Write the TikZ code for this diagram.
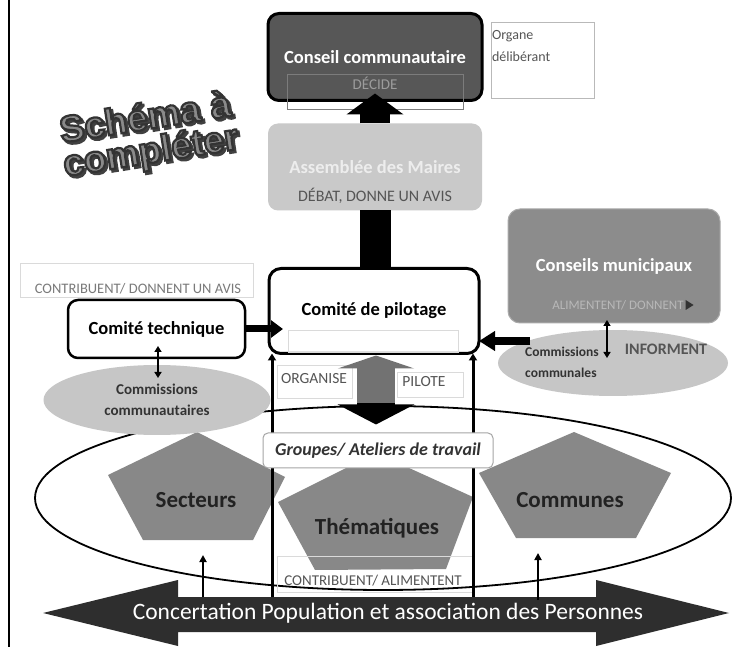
\documentclass[tikz,border=0pt]{standalone}
\usepackage{fontspec}
\setmainfont{Carlito}
\newfontfamily\schfont{Liberation Sans}
\usetikzlibrary{arrows.meta,shapes.geometric,calc}
\definecolor{ccfill}{HTML}{575757}
\definecolor{ccinner}{HTML}{7C7C7C}
\definecolor{amfill}{HTML}{C9C9C9}
\definecolor{amtext}{HTML}{EDEDED}
\definecolor{cmfill}{HTML}{8C8C8C}
\definecolor{cmedge}{HTML}{AAAAAA}
\definecolor{elfill}{HTML}{C6C6C6}
\definecolor{pentfill}{HTML}{888888}
\definecolor{pentext}{HTML}{222222}
\definecolor{bandfill}{HTML}{2E2E2E}
\definecolor{upgray}{HTML}{727272}
\definecolor{txtgray}{HTML}{555555}
\definecolor{lighttxt}{HTML}{7A7A7A}
\definecolor{faintline}{HTML}{DADADA}
\definecolor{decidetxt}{HTML}{9C9C9C}
\definecolor{alimtxt}{HTML}{B8B8B8}
\definecolor{schfill}{HTML}{8A8A8A}
\definecolor{schshadow}{HTML}{404040}
\definecolor{grpedge}{HTML}{A5A5A5}
\definecolor{darktxt}{HTML}{333333}
\newcommand{\outlinedtext}[1]{\special{pdf:literal direct 2 Tr 2.2 w 0.2 0.2 0.2 RG}#1\special{pdf:literal direct 0 Tr}}
\newcommand{\shadowtext}[1]{\special{pdf:literal direct 2 Tr 2.4 w 0.25 0.25 0.25 RG}#1\special{pdf:literal direct 0 Tr}}
\begin{document}
\begin{tikzpicture}[x=1pt,y=-1pt,
  every node/.style={inner sep=0pt,outer sep=0pt},
  titlefont/.style={font=\bfseries\fontsize{18.5}{22}\selectfont},
  heavybox/.style={draw=black,line width=3pt,rounded corners=11pt},
  faintbox/.style={draw=faintline,line width=0.8pt},
  dblarrow/.style={line width=2pt,{Triangle[length=6pt,width=7pt]}-{Triangle[length=6pt,width=7pt]}},
  smallup/.style={line width=2pt,-{Triangle[length=7pt,width=7pt]}},
  vline/.style={line width=3pt,-{Triangle[length=7pt,width=8pt]}},
  pentagon/.style={fill=pentfill},
  penttext/.style={font=\bfseries\fontsize{23}{26}\selectfont,text=pentext},
  schtext/.style={rotate=9,text=schfill,font=\schfont\bfseries\fontsize{37}{40}\selectfont},
]
\useasboundingbox (0,0) rectangle (732,647);
\fill[white] (0,0) rectangle (732,647);

% left frame line
\draw[line width=2.8pt] (9,0) -- (9,647);

% title "Schema a completer" (shadow, then outlined text)
\coordinate (schA) at (145,116);
\coordinate (schB) at (151,153);
\node[schtext,text=schshadow] (schAs) at ($(schA)+(2.2,2.2)$) {\shadowtext{Schéma à}};
\node[schtext,text=schshadow] (schBs) at ($(schB)+(2.2,2.2)$) {\shadowtext{compléter}};
\node[schtext] (schAt) at (schA) {\outlinedtext{Schéma à}};
\node[schtext] (schBt) at (schB) {\outlinedtext{compléter}};

% Organe deliberant
\node[draw=faintline!85!black,line width=0.8pt,minimum width=103pt,minimum height=76pt,anchor=north west] (org) at (491,22) {};
\node[anchor=north west,align=left,text=txtgray,font=\fontsize{14}{22}\selectfont] (orgtxt) at (492,30) {Organe\\délibérant};

% big ellipse
\node[ellipse,draw,line width=1.8pt,minimum width=696pt,minimum height=184pt] (big) at (383,498) {};

% pentagons
\fill[pentagon] (197,432) -- (285,477) -- (253,540) -- (143,540) -- (108,475) -- cycle;
\fill[pentagon] (376,453) -- (473,497) -- (446,569) -- (315,570) -- (278,502) -- cycle;
\fill[pentagon] (574,432) -- (671,473) -- (636,538) -- (516,538) -- (479,473) -- cycle;
\node[penttext] (sec) at (196,500) {Secteurs};
\node[penttext] (thm) at (377,528) {Thématiques};
\node[penttext] (com) at (570,500) {Communes};

% faint text box bottom
\node[faintbox,minimum width=196pt,minimum height=36pt] (calbox) at (375,574) {};
\node[text=txtgray,font=\fontsize{15}{17}\selectfont] (caltxt) at (373,581) {CONTRIBUENT/ ALIMENTENT};

% Conseil communautaire
\node[heavybox,fill=ccfill,minimum width=214pt,minimum height=87pt,text=white,titlefont] (cc) at (375,57) {Conseil communautaire};
\draw[draw=ccinner,line width=0.6pt] ($(cc.center)+(-88,17)$) rectangle ($(cc.center)+(88,52)$);
\node[text=decidetxt,font=\fontsize{15}{17}\selectfont] (decide) at ($(cc.center)+(0,26)$) {DÉCIDE};

% Assemblee des Maires
\node[fill=amfill,rounded corners=10pt,minimum width=214pt,minimum height=87pt,text=amtext,titlefont] (am) at (375,167) {Assemblée des Maires};
\node[text=txtgray,font=\fontsize{16}{18}\selectfont] (debat) at ($(am.center)+(0,29)$) {DÉBAT, DONNE UN AVIS};

% arrow Assemblee -> Conseil
\draw[line width=30pt,-{Triangle[length=21pt,width=56pt]}] (am.north) -- ($(cc.south)+(0,-7)$);

% Comite de pilotage
\node[heavybox,fill=white,rounded corners=12pt,minimum width=210pt,minimum height=85pt,titlefont] (cp) at (374,311) {Comité de pilotage};
\draw[faintline,line width=0.8pt] ($(cp.center)+(-86,19)$) rectangle ($(cp.center)+(84,41)$);

% bar Assemblee -> Comite de pilotage
\draw[line width=31pt] (am.south) -- (am.south |- cp.north);

% CONTRIBUENT / DONNENT UN AVIS
\node[faintbox,minimum width=233pt,minimum height=34pt] (cdbox) at (136.5,280) {};
\node[text=lighttxt,font=\fontsize{14.5}{17}\selectfont] (cdtxt) at (138,289) {CONTRIBUENT/ DONNENT UN AVIS};

% Comite technique
\node[draw=black,line width=2.5pt,rounded corners=10pt,fill=white,minimum width=177pt,minimum height=58pt,titlefont] (ct) at (156.5,329) {Comité technique};
\draw[line width=7pt,-{Triangle[length=12pt,width=17pt]}] (ct.east) -- ($(cp.west |- ct.east)+(14,0)$);

% Commissions communautaires
\node[ellipse,fill=elfill,minimum width=227pt,minimum height=70pt,align=center,text=darktxt,font=\bfseries\fontsize{15}{21}\selectfont] (ccomm) at (157,400) {Commissions\\communautaires};
\draw[dblarrow] ($(ct.south)+(1.5,-12)$) -- ($(ct.south)+(1.5,20)$);

% Conseils municipaux
\node[fill=cmfill,draw=cmedge,line width=1pt,rounded corners=12pt,minimum width=212pt,minimum height=114pt,text=white,titlefont] (cm) at (614,266) {Conseils municipaux};
\node[text=alimtxt,font=\fontsize{13}{15}\selectfont] (alim) at ($(cm.center)+(4,39)$) {ALIMENTENT/ DONNENT};
\fill[darktxt] ($(alim.east)+(2,-5)$) -- ($(alim.east)+(10,0)$) -- ($(alim.east)+(2,5)$) -- cycle;

% Commissions communales
\node[ellipse,fill=elfill,minimum width=230pt,minimum height=66pt] (ccl) at (613,363) {};
\node[align=left,text=darktxt,font=\bfseries\fontsize{13.5}{21}\selectfont] (ccltxt) at (562,362) {Commissions\\communales};
\node[text=txtgray,font=\bfseries\fontsize{16}{18}\selectfont] (inform) at (666,349) {INFORMENT};
\draw[dblarrow] ($(cm.south)+(-7,-3)$) -- ($(cm.south)+(-7,35)$);

% arrow communales -> pilotage
\coordinate (cclstart) at ($(ccl.center)+(-83,-22)$);
\draw[line width=8pt,-{Triangle[length=16pt,width=19pt]}] (cclstart) -- (cclstart -| cp.east);

% vertical lines up to Comite de pilotage
\coordinate (lbot) at ($(cp.south west)+(3,245)$);
\coordinate (rbot) at ($(cp.south east)+(-6,245)$);
\draw[vline] (lbot) -- ($(cp.south west)+(3,0)$);
\draw[vline] (rbot) -- ($(cp.south east)+(-6,0)$);

% ORGANISE / PILOTE boxes
\node[faintbox,fill=white,minimum width=75pt,minimum height=33pt] (orgbox) at (314.5,381.5) {};
\node[text=txtgray,font=\fontsize{15.5}{17}\selectfont] (orgn) at (314,379) {ORGANISE};
\node[faintbox,fill=white,minimum width=66pt,minimum height=25pt] (pilbox) at (430,384.5) {};
\node[text=txtgray,font=\fontsize{15.5}{17}\selectfont] (pil) at (424,382) {PILOTE};

% central double arrow
\draw[upgray,line width=38pt,-{Triangle[length=13pt,width=76pt]}] ($(cp.south)+(2,51)$) -- ($(cp.south)+(2,2)$);
\draw[black,line width=38pt,-{Triangle[length=20pt,width=76pt]}] ($(cp.south)+(2,50)$) -- ($(cp.south)+(2,71)$);

% Groupes / Ateliers de travail
\node[draw=grpedge,line width=1pt,fill=white,rounded corners=5pt,minimum width=230pt,minimum height=35pt,text=darktxt,font=\bfseries\itshape\fontsize{18}{20}\selectfont] (grp) at (378,450.5) {Groupes/ Ateliers de travail};

% banner
\fill[bandfill] (43,613) -- (178,580) -- (178,597) -- (596,597) -- (596,580) -- (729,613) -- (596,646) -- (596,632) -- (178,632) -- (178,646) -- cycle;
\node[text=white,font=\fontsize{23.5}{26}\selectfont] (ban) at (388,613) {Concertation Population et association des Personnes};

% small arrows from banner
\draw[smallup] ($(sec)+(7,97)$) -- ($(sec)+(7,55)$);
\draw[smallup] ($(com)+(-32,100)$) -- ($(com)+(-32,53)$);
\end{tikzpicture}
\end{document}
